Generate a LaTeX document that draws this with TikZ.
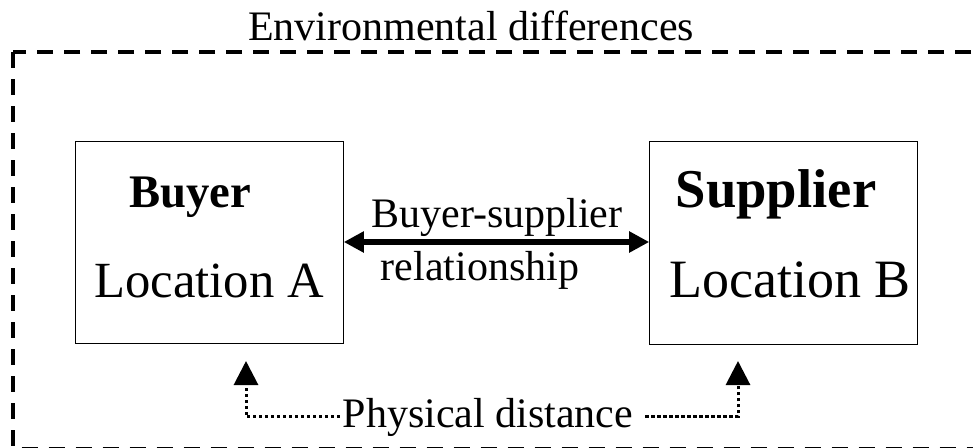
\documentclass[tikz,border=0pt]{standalone}
\usepackage{fontspec}
\setmainfont{Liberation Serif}
\usetikzlibrary{arrows.meta}
\begin{document}
\begin{tikzpicture}[x=0.75pt,y=-0.75pt,
  box/.style={draw, line width=0.9pt, minimum width=200.5pt, minimum height=152pt, inner sep=0pt},
  lbl/.style={inner sep=0pt, anchor=base},
  small/.style={font=\fontsize{31.5pt}{36pt}\selectfont},
  big/.style={font=\fontsize{38pt}{44pt}\selectfont},
  bigger/.style={font=\fontsize{40.5pt}{46pt}\selectfont},
  title/.style={font=\fontsize{35pt}{40pt}\selectfont\bfseries},
  bigtitle/.style={font=\fontsize{41pt}{46pt}\selectfont\bfseries},
  border/.style={line width=3pt, dash pattern=on 12pt off 8.25pt},
  link/.style={line width=4.8pt, {Triangle[length=15pt,width=15pt]}-{Triangle[length=15pt,width=15pt]}},
  dist/.style={line width=2.25pt, dash pattern=on 2.4pt off 2.1pt, -{Triangle[length=18pt,width=18pt]}}]
\useasboundingbox (0,0) rectangle (973,447);
\clip (0,0) rectangle (973,447);

% dashed frame for the environment
\draw[border] (13,52) -- (13,448.5) -- (1000,448.5) -- (1000,52) -- cycle;
\node[lbl, small] (env) at (471,40) {Environmental differences};

% the two parties
\node[box] (buyer) at (209.5,242.5) {};
\node[box] (supplier) at (783.5,243) {};
\node[lbl, title] (buyert) at (190,207) {Buyer};
\node[lbl, big] (loca) at (209,297) {Location A};
\node[lbl, bigtitle] (suppliert) at (776,207) {Supplier};
\node[lbl, bigger] (locb) at (790,297) {Location B};

% relationship between them
\draw[link] (buyer.east |- 0,242) -- (supplier.west |- 0,242);
\node[lbl, small] (bs) at (497,227) {Buyer-supplier};
\node[lbl, small] (rel) at (480,280) {relationship};

% physical distance
\node[lbl, small, inner xsep=2pt] (phys) at (488,427) {Physical distance};
\coordinate (tipl) at (246,361);
\coordinate (tipr) at (738,361);
\draw[dist] (phys.west) -| (tipl);
\draw[dist] ([xshift=7pt]phys.east) -| (tipr);
\end{tikzpicture}
\end{document}
